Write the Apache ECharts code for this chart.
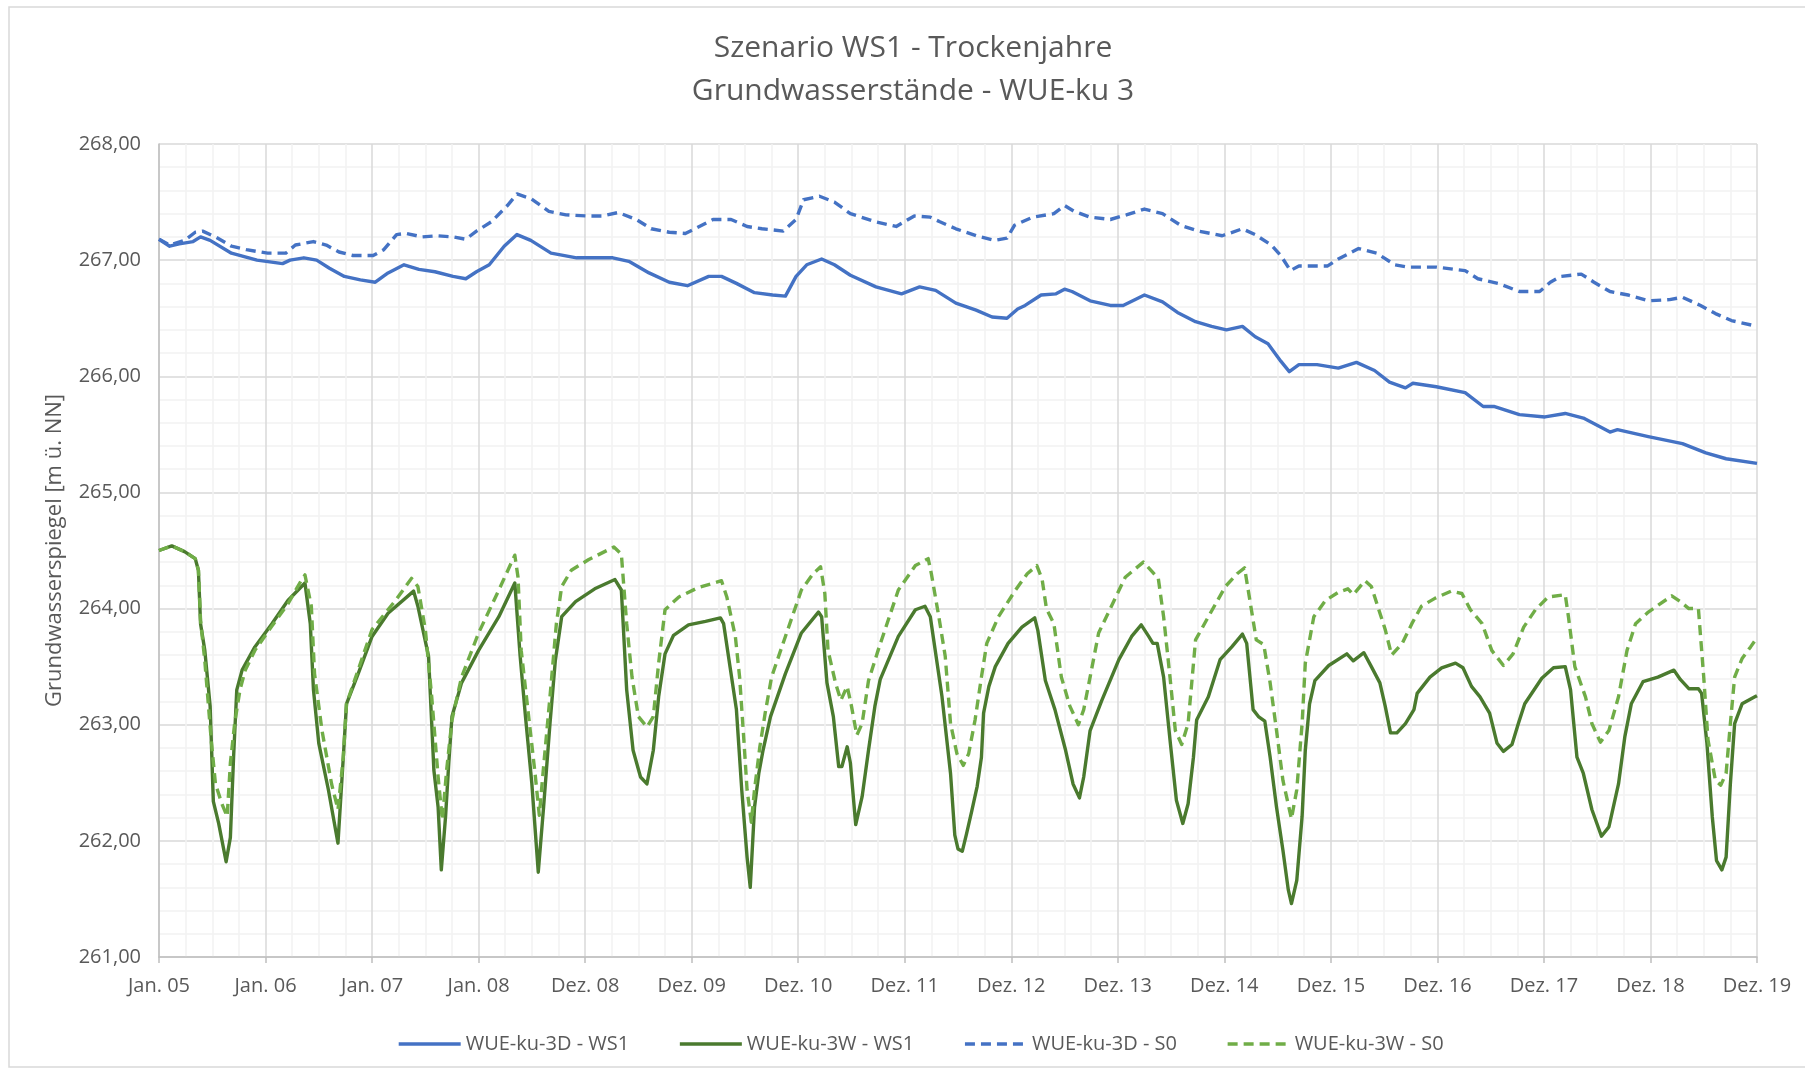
<!DOCTYPE html>
<html>
<head>
<meta charset="utf-8">
<script src="https://cdn.jsdelivr.net/npm/echarts@6/dist/echarts.min.js"></script>
<style>
html,body{margin:0;padding:0;background:#fff;}
#chart{width:1805px;height:1069px;}
</style>
</head>
<body>
<div id="chart"></div>
<script>
// ---- Data (time in years since Jan. 05) ----
const titleLines = ['Szenario WS1 - Trockenjahre', 'Grundwasserstände - WUE-ku 3'];
const yAxisTitle = 'Grundwasserspiegel [m ü. NN]';
const xTickLabels = ['Jan. 05','Jan. 06','Jan. 07','Jan. 08','Dez. 08','Dez. 09','Dez. 10','Dez. 11','Dez. 12','Dez. 13','Dez. 14','Dez. 15','Dez. 16','Dez. 17','Dez. 18','Dez. 19'];
const yTickLabels = ['261,00','262,00','263,00','264,00','265,00','266,00','267,00','268,00'];
const seriesNames = ['WUE-ku-3D - WS1','WUE-ku-3W - WS1','WUE-ku-3D - S0','WUE-ku-3W - S0'];

// WUE-ku-3D - WS1
const t3D_WS1 = [0,0.10,0.19,0.32,0.39,0.48,0.68,0.92,1.16,1.23,1.36,1.48,1.60,1.74,1.89,2.03,2.15,2.30,2.44,2.59,2.76,2.88,2.98,3.10,3.24,3.36,3.49,3.68,3.92,4.11,4.26,4.41,4.60,4.79,4.96,5.16,5.28,5.42,5.59,5.76,5.88,5.98,6.08,6.22,6.34,6.49,6.73,6.97,7.14,7.29,7.48,7.67,7.82,7.96,8.06,8.13,8.28,8.42,8.50,8.57,8.74,8.93,9.05,9.25,9.42,9.56,9.73,9.88,10.02,10.17,10.29,10.41,10.53,10.61,10.70,10.87,11.07,11.24,11.41,11.55,11.70,11.77,11.99,12.26,12.43,12.53,12.77,13.01,13.20,13.37,13.62,13.69,13.98,14.30,14.52,14.71,15.00];
const v3D_WS1 = [267.18,267.12,267.14,267.16,267.20,267.17,267.06,267.00,266.97,267.00,267.02,267.00,266.93,266.86,266.83,266.81,266.89,266.96,266.92,266.90,266.86,266.84,266.90,266.96,267.12,267.22,267.17,267.06,267.02,267.02,267.02,266.99,266.89,266.81,266.78,266.86,266.86,266.80,266.72,266.70,266.69,266.86,266.96,267.01,266.96,266.87,266.77,266.71,266.77,266.74,266.63,266.57,266.51,266.50,266.58,266.61,266.70,266.71,266.75,266.73,266.65,266.61,266.61,266.70,266.64,266.55,266.47,266.43,266.40,266.43,266.34,266.28,266.13,266.04,266.10,266.10,266.07,266.12,266.05,265.95,265.90,265.94,265.91,265.86,265.74,265.74,265.67,265.65,265.68,265.64,265.52,265.54,265.48,265.42,265.34,265.29,265.25];

// WUE-ku-3W - WS1
const t3W_WS1 = [0,0.12,0.24,0.34,0.37,0.39,0.43,0.48,0.51,0.56,0.63,0.67,0.70,0.73,0.78,0.90,1.06,1.21,1.37,1.42,1.45,1.50,1.59,1.68,1.73,1.76,1.87,2.00,2.15,2.39,2.43,2.53,2.56,2.58,2.62,2.65,2.69,2.72,2.75,2.84,3.00,3.19,3.34,3.39,3.44,3.50,3.56,3.61,3.67,3.72,3.78,3.91,4.09,4.28,4.34,4.39,4.45,4.52,4.58,4.64,4.69,4.75,4.83,4.97,5.13,5.27,5.30,5.36,5.42,5.47,5.52,5.55,5.59,5.63,5.67,5.74,5.88,6.03,6.19,6.22,6.27,6.33,6.38,6.41,6.46,6.49,6.54,6.60,6.66,6.72,6.77,6.94,7.10,7.19,7.24,7.35,7.43,7.47,7.50,7.54,7.58,7.63,7.68,7.72,7.74,7.79,7.85,7.97,8.10,8.22,8.25,8.32,8.41,8.51,8.58,8.64,8.68,8.74,8.85,9.01,9.13,9.22,9.29,9.33,9.37,9.43,9.49,9.55,9.61,9.66,9.71,9.74,9.85,9.96,10.07,10.17,10.21,10.27,10.32,10.38,10.43,10.49,10.55,10.60,10.63,10.68,10.73,10.76,10.80,10.85,10.98,11.15,11.21,11.31,11.38,11.46,11.51,11.56,11.62,11.70,11.78,11.81,11.93,12.04,12.17,12.24,12.32,12.40,12.49,12.56,12.62,12.70,12.76,12.82,12.98,13.09,13.20,13.25,13.31,13.37,13.45,13.54,13.61,13.70,13.76,13.82,13.93,14.07,14.22,14.28,14.36,14.45,14.48,14.53,14.58,14.62,14.67,14.71,14.75,14.79,14.86,14.98,15.00];
const v3W_WS1 = [264.50,264.54,264.49,264.43,264.33,263.87,263.64,263.16,262.34,262.15,261.82,262.03,262.72,263.30,263.47,263.67,263.87,264.07,264.22,263.87,263.30,262.84,262.44,261.98,262.72,263.18,263.44,263.76,263.96,264.15,264.02,263.59,263.01,262.61,262.29,261.75,262.21,262.67,263.07,263.36,263.64,263.93,264.22,263.59,263.07,262.49,261.73,262.29,263.01,263.55,263.93,264.06,264.17,264.25,264.16,263.30,262.78,262.55,262.49,262.78,263.24,263.61,263.77,263.86,263.89,263.92,263.87,263.50,263.13,262.44,261.86,261.60,262.29,262.58,262.78,263.07,263.44,263.79,263.97,263.93,263.36,263.07,262.64,262.64,262.81,262.67,262.14,262.38,262.78,263.16,263.39,263.76,263.99,264.02,263.93,263.24,262.58,262.05,261.93,261.91,262.06,262.26,262.47,262.72,263.10,263.33,263.50,263.70,263.84,263.92,263.81,263.38,263.13,262.78,262.49,262.37,262.55,262.95,263.21,263.56,263.76,263.86,263.76,263.70,263.70,263.41,262.87,262.35,262.15,262.32,262.72,263.04,263.24,263.56,263.67,263.78,263.70,263.13,263.07,263.03,262.72,262.29,261.92,261.58,261.46,261.66,262.21,262.78,263.18,263.38,263.51,263.61,263.55,263.62,263.50,263.36,263.16,262.93,262.93,263.01,263.13,263.27,263.41,263.49,263.53,263.49,263.33,263.24,263.10,262.84,262.77,262.83,263.01,263.18,263.40,263.49,263.50,263.30,262.72,262.58,262.27,262.04,262.12,262.49,262.90,263.18,263.37,263.41,263.47,263.39,263.31,263.31,263.27,262.84,262.21,261.83,261.75,261.86,262.49,263.01,263.18,263.24,263.25];

// WUE-ku-3D - S0
const t3D_S0 = [0,0.10,0.24,0.34,0.41,0.53,0.68,0.82,1.02,1.19,1.28,1.45,1.57,1.69,1.82,2.01,2.11,2.23,2.32,2.47,2.61,2.76,2.88,2.98,3.12,3.27,3.36,3.49,3.66,3.82,4.02,4.16,4.31,4.48,4.62,4.79,4.94,5.03,5.20,5.37,5.52,5.66,5.86,5.98,6.05,6.20,6.34,6.49,6.73,6.92,7.09,7.24,7.33,7.48,7.67,7.84,7.96,8.03,8.20,8.40,8.50,8.59,8.74,8.93,9.08,9.25,9.42,9.59,9.76,9.98,10.17,10.29,10.44,10.53,10.62,10.70,10.97,11.07,11.26,11.43,11.60,11.72,11.99,12.26,12.38,12.57,12.77,12.96,13.06,13.16,13.35,13.47,13.62,13.79,13.98,14.18,14.30,14.47,14.61,14.76,15.00];
const v3D_S0 = [267.18,267.13,267.17,267.24,267.25,267.20,267.12,267.09,267.06,267.06,267.13,267.16,267.13,267.07,267.04,267.04,267.09,267.22,267.23,267.20,267.21,267.20,267.18,267.25,267.33,267.47,267.57,267.53,267.42,267.39,267.38,267.38,267.41,267.35,267.27,267.24,267.23,267.27,267.35,267.35,267.29,267.27,267.25,267.35,267.52,267.55,267.50,267.40,267.33,267.29,267.38,267.37,267.33,267.27,267.21,267.17,267.19,267.30,267.37,267.40,267.47,267.42,267.37,267.35,267.39,267.44,267.40,267.30,267.25,267.21,267.27,267.22,267.13,267.04,266.91,266.95,266.95,267.01,267.10,267.06,266.96,266.94,266.94,266.91,266.84,266.80,266.73,266.73,266.81,266.86,266.88,266.81,266.73,266.70,266.65,266.66,266.68,266.61,266.54,266.48,266.43];

// WUE-ku-3W - S0
const t3W_S0 = [0,0.12,0.24,0.34,0.37,0.39,0.43,0.49,0.53,0.59,0.64,0.67,0.71,0.76,0.81,0.90,1.06,1.21,1.34,1.37,1.43,1.46,1.53,1.62,1.68,1.73,1.76,2.00,2.22,2.37,2.43,2.50,2.56,2.62,2.66,2.70,2.75,2.84,3.00,3.19,3.34,3.37,3.40,3.47,3.53,3.57,3.61,3.67,3.73,3.78,3.87,4.03,4.27,4.34,4.39,4.44,4.50,4.58,4.64,4.69,4.75,4.88,5.06,5.28,5.33,5.41,5.45,5.49,5.52,5.56,5.59,5.64,5.69,5.75,5.88,6.03,6.14,6.21,6.25,6.28,6.35,6.40,6.46,6.50,6.55,6.60,6.66,6.75,6.94,7.10,7.22,7.25,7.32,7.38,7.43,7.49,7.55,7.60,7.66,7.72,7.77,7.88,8.04,8.15,8.24,8.29,8.33,8.40,8.47,8.55,8.63,8.68,8.74,8.82,8.94,9.07,9.24,9.32,9.38,9.43,9.49,9.54,9.60,9.66,9.73,9.85,10.01,10.12,10.19,10.24,10.30,10.37,10.43,10.49,10.55,10.63,10.68,10.73,10.76,10.84,10.95,11.07,11.16,11.21,11.32,11.38,11.45,11.51,11.57,11.67,11.76,11.85,11.98,12.13,12.23,12.31,12.42,12.51,12.62,12.71,12.81,12.92,13.04,13.20,13.23,13.29,13.39,13.45,13.53,13.61,13.70,13.78,13.86,13.98,14.20,14.28,14.36,14.45,14.50,14.54,14.61,14.66,14.71,14.75,14.79,14.86,14.94,15.00];
const v3W_S0 = [264.50,264.54,264.49,264.43,264.33,263.90,263.55,262.87,262.49,262.32,262.21,262.67,263.01,263.30,263.47,263.64,263.85,264.04,264.25,264.29,264.02,263.44,262.95,262.49,262.27,262.72,263.18,263.82,264.07,264.26,264.19,263.82,263.24,262.55,262.18,262.61,263.04,263.41,263.79,264.16,264.46,264.27,263.64,263.07,262.58,262.22,262.64,263.24,263.87,264.19,264.33,264.42,264.53,264.47,263.87,263.41,263.07,262.98,263.07,263.53,263.99,264.10,264.18,264.24,264.10,263.76,263.41,262.87,262.44,262.16,262.44,262.81,263.10,263.41,263.76,264.16,264.30,264.36,264.13,263.64,263.36,263.21,263.33,263.16,262.91,263.01,263.38,263.64,264.16,264.37,264.43,264.30,263.93,263.59,263.01,262.75,262.65,262.75,263.04,263.41,263.70,263.93,264.16,264.30,264.37,264.25,264.00,263.87,263.41,263.16,263.00,263.13,263.41,263.79,264.02,264.27,264.40,264.32,264.26,263.93,263.41,262.95,262.83,263.01,263.73,263.93,264.19,264.30,264.35,264.07,263.73,263.69,263.36,262.95,262.52,262.19,262.44,263.01,263.53,263.93,264.07,264.14,264.17,264.12,264.24,264.19,263.99,263.82,263.60,263.70,263.87,264.02,264.09,264.15,264.13,263.99,263.87,263.64,263.51,263.61,263.84,263.99,264.10,264.12,263.93,263.50,263.24,263.01,262.85,262.95,263.24,263.64,263.87,263.97,264.11,264.06,264.00,264.00,263.41,262.87,262.52,262.48,262.58,263.01,263.41,263.57,263.67,263.75];

const pairs = (t, v) => t.map((x, i) => [x, v[i]]);

const FONT = 'Open Sans';
const TXT = '#595959';
const BLUE = '#4472C4';
const DGREEN = '#4A7A2E';
const LGREEN = '#70AD47';
const LW = 3.4;

const chart = echarts.init(document.getElementById('chart'), null, {renderer: 'canvas'});
const option = {
  backgroundColor: '#ffffff',
  animation: false,
  textStyle: {fontFamily: FONT, color: TXT},
  graphic: [
    {type: 'rect', silent: true, z: -10,
     shape: {x: 9, y: 7, width: 1830, height: 1060},
     style: {fill: 'none', stroke: '#D9D9D9', lineWidth: 1.5}},
    {type: 'text', x: 913, y: 48,
     style: {text: titleLines[0], font: '30px "Open Sans"', fill: TXT, align: 'center', verticalAlign: 'middle'}},
    {type: 'text', x: 913, y: 91,
     style: {text: titleLines[1], font: '30px "Open Sans"', fill: TXT, align: 'center', verticalAlign: 'middle'}}
  ],
  grid: {left: 159, right: 48, top: 144, bottom: 112, containLabel: false},
  legend: {
    left: 392, top: 1029,
    itemWidth: 62, itemHeight: 20, itemGap: 49,
    itemStyle: {color: 'rgba(0,0,0,0)', borderColor: 'rgba(0,0,0,0)', borderWidth: 0, opacity: 0},
    lineStyle: {width: LW},
    textStyle: {fontFamily: FONT, fontSize: 20, color: TXT},
    data: seriesNames
  },
  xAxis: {
    type: 'value', min: 0, max: 15, interval: 1,
    axisLine: {show: true, lineStyle: {color: '#BFBFBF', width: 1.5}},
    axisTick: {show: true, length: 6, lineStyle: {color: '#BFBFBF', width: 1.5}},
    axisLabel: {fontFamily: FONT, fontSize: 20, color: TXT, margin: 19,
      formatter: v => xTickLabels[Math.round(v)]},
    splitLine: {show: true, lineStyle: {color: '#D9D9D9', width: 1.5}},
    minorTick: {show: false, splitNumber: 4},
    minorSplitLine: {show: true, lineStyle: {color: '#F2F2F2', width: 1.5}}
  },
  yAxis: {
    type: 'value', min: 261, max: 268, interval: 1,
    name: yAxisTitle, nameLocation: 'middle', nameGap: 93, nameRotate: 90,
    nameTextStyle: {fontFamily: FONT, fontSize: 22, color: TXT},
    axisLine: {show: true, lineStyle: {color: '#BFBFBF', width: 1.5}},
    axisTick: {show: false},
    axisLabel: {fontFamily: FONT, fontSize: 20, color: TXT, margin: 18,
      formatter: v => yTickLabels[Math.round(v - 261)]},
    splitLine: {show: true, lineStyle: {color: '#D9D9D9', width: 1.5}},
    minorTick: {show: false, splitNumber: 5},
    minorSplitLine: {show: true, lineStyle: {color: '#F2F2F2', width: 1.5}}
  },
  series: [
    {name: seriesNames[0], type: 'line', data: pairs(t3D_WS1, v3D_WS1), symbol: 'none', showSymbol: false,
     lineStyle: {color: BLUE, width: LW, join: 'round'}, itemStyle: {color: BLUE}, z: 3},
    {name: seriesNames[1], type: 'line', data: pairs(t3W_WS1, v3W_WS1), symbol: 'none', showSymbol: false,
     lineStyle: {color: DGREEN, width: LW, join: 'round'}, itemStyle: {color: DGREEN}, z: 3},
    {name: seriesNames[2], type: 'line', data: pairs(t3D_S0, v3D_S0), symbol: 'none', showSymbol: false,
     lineStyle: {color: BLUE, width: LW, type: [10, 6], join: 'round'}, itemStyle: {color: BLUE}, z: 4},
    {name: seriesNames[3], type: 'line', data: pairs(t3W_S0, v3W_S0), symbol: 'none', showSymbol: false,
     lineStyle: {color: LGREEN, width: LW, type: [10, 6], join: 'round'}, itemStyle: {color: LGREEN}, z: 4}
  ]
};
chart.setOption(option);
</script>
</body>
</html>
